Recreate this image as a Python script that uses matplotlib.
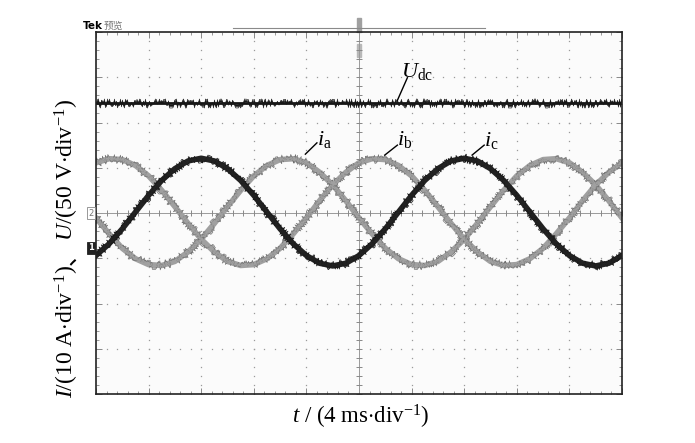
import numpy as np
import matplotlib
matplotlib.use('Agg')
import matplotlib.pyplot as plt
from matplotlib.patches import Rectangle

plt.rcParams['mathtext.fontset'] = 'custom'
plt.rcParams['mathtext.rm'] = 'Liberation Serif'
plt.rcParams['mathtext.it'] = 'Liberation Serif:italic'
plt.rcParams['mathtext.bf'] = 'Liberation Serif:bold'
plt.rcParams['font.family'] = ['Liberation Serif', 'Noto Sans CJK SC', 'DejaVu Sans']

# screen readings, in divisions (x: 4 ms/div, y: 10 A/div or 50 V/div)
t_div = np.arange(41) * 0.25
i_a = [-0.11, -0.46, -0.78, -1.01, -1.14, -1.16, -1.07, -0.86, -0.58, -0.23,
       0.14, 0.50, 0.82, 1.05, 1.18, 1.20, 1.11, 0.90, 0.62, 0.27,
       -0.11, -0.46, -0.78, -1.01, -1.14, -1.16, -1.07, -0.86, -0.58, -0.23,
       0.14, 0.50, 0.82, 1.05, 1.18, 1.20, 1.11, 0.90, 0.62, 0.27, -0.11]
i_b = [1.11, 1.20, 1.18, 1.05, 0.82, 0.50, 0.14, -0.23, -0.58, -0.86,
       -1.07, -1.16, -1.14, -1.01, -0.78, -0.46, -0.11, 0.27, 0.62, 0.90,
       1.11, 1.20, 1.18, 1.05, 0.82, 0.50, 0.14, -0.23, -0.58, -0.86,
       -1.07, -1.16, -1.14, -1.01, -0.78, -0.46, -0.11, 0.27, 0.62, 0.90, 1.11]
i_c = [-0.94, -0.68, -0.35, 0.02, 0.39, 0.72, 0.98, 1.15, 1.21, 1.15,
       0.98, 0.72, 0.39, 0.02, -0.35, -0.68, -0.94, -1.11, -1.17, -1.11,
       -0.94, -0.68, -0.35, 0.02, 0.39, 0.72, 0.98, 1.15, 1.21, 1.15,
       0.98, 0.72, 0.39, 0.02, -0.35, -0.68, -0.94, -1.11, -1.17, -1.11, -0.94]
udc_t = [0, 10]
u_dc = [2.42, 2.42]

fig = plt.figure(figsize=(6.95, 4.43), dpi=100)
ax = fig.add_axes([96/695, 1-394/443, 526/695, 362/443])
ax.set_xlim(0, 10)
ax.set_ylim(-4, 4)
ax.set_facecolor('#fbfbfb')

# scope graticule: dotted division lines, centre cross with minor ticks
fine = np.arange(0, 10.01, 0.2)
fine_y = np.arange(-4, 4.01, 0.2)
for k in range(1, 10):
    if k != 5:
        ax.plot(np.full(fine_y.size, k), fine_y, ls='none', marker='s', ms=0.9, color='#9a9a9a', mew=0)
for k in range(-3, 4):
    if k != 0:
        ax.plot(fine, np.full(fine.size, k), ls='none', marker='s', ms=0.9, color='#9a9a9a', mew=0)
ax.axhline(0, color='#9a9a9a', lw=0.7)
ax.axvline(5, color='#9a9a9a', lw=0.7)
ax.plot(fine, np.zeros(fine.size), ls='none', marker='|', ms=4, color='#888888', mew=0.7)
ax.plot(np.full(fine_y.size, 5), fine_y, ls='none', marker='_', ms=4, color='#888888', mew=0.7)

ax.set_xticks(range(11))
ax.set_yticks(range(-4, 5))
ax.set_xticks(fine, minor=True)
ax.set_yticks(fine_y, minor=True)
ax.tick_params(which='both', direction='in', top=True, right=True,
               labelbottom=False, labelleft=False, color='#888888')
ax.tick_params(which='major', length=4, width=0.7)
ax.tick_params(which='minor', length=2.5, width=0.6)
for s in ax.spines.values():
    s.set_linewidth(1.2)
    s.set_color('#222222')

# traces: solid core plus jittered thin strokes for the scope noise
def trace(x, y, core, fuzz, lw, amp):
    ax.plot(x, y, color=core, lw=lw)
    for c, a, w in ((fuzz, amp, 0.5), (fuzz, amp * 0.7, 0.6), (core, amp * 0.45, 0.8)):
        ln, = ax.plot(x, y, color=c, lw=w)
        ln.set_sketch_params(scale=a, length=0.8, randomness=1.5)

trace(t_div, i_a, '#a0a0a0', '#727272', 4.0, 4.5)
trace(t_div, i_b, '#a0a0a0', '#727272', 4.0, 4.5)
trace(t_div, i_c, '#222222', '#161616', 4.0, 4.5)
trace(udc_t, u_dc, '#151515', '#2a2a2a', 2.0, 4.5)

# labels on traces
lab = dict(fontsize=16)
ax.plot([5.73, 5.92], [2.49, 2.99], color='k', lw=1)
ax.text(5.8, 3.0, r'$U_\mathrm{dc}$', **lab)
ax.plot([3.98, 4.20], [1.30, 1.55], color='k', lw=1)
ax.text(4.2, 1.5, r'$i_\mathrm{a}$', **lab)
ax.plot([5.49, 5.73], [1.28, 1.50], color='k', lw=1)
ax.text(5.72, 1.5, r'$i_\mathrm{b}$', **lab)
ax.plot([7.15, 7.38], [1.28, 1.50], color='k', lw=1)
ax.text(7.37, 1.48, r'$i_\mathrm{c}$', **lab)

# scope markers
ax.plot([2.6, 7.4], [4.09, 4.09], color='#8a8a8a', lw=0.8, clip_on=False)
ax.add_patch(Rectangle((4.96, 4.0), 0.08, 0.3, color='#a0a0a0', clip_on=False))
ax.add_patch(Rectangle((4.96, 3.45), 0.08, 0.28, color='#b8b8b8', clip_on=False))
ax.text(-0.04, 0, '2', fontsize=6, color='#777777', ha='right', va='center', family='DejaVu Sans',
        bbox=dict(boxstyle='square,pad=0.15', fc='white', ec='#888888', lw=0.6), clip_on=False)
ax.text(-0.04, -0.77, '1', fontsize=6, color='white', ha='right', va='center', family='DejaVu Sans',
        fontweight='bold', bbox=dict(boxstyle='square,pad=0.15', fc='#222222', ec='#222222', lw=0.6), clip_on=False)
fig.text(83/695, 1-29/443, 'Tek', fontsize=7.5, fontweight='bold', family='DejaVu Sans')
fig.text(104/695, 1-29/443, '预览', fontsize=7, color='#777777', family='Noto Sans CJK SC')

# axis titles
fig.text(361/695, 1-424/443, r'$t$ / (4 ms$\cdot$div$^{-1}$)', fontsize=16.5,
         ha='center', va='baseline')
fig.canvas.draw()
r = fig.canvas.get_renderer()
pieces = [(r'$I$/(10 A$\cdot$div$^{-1}$)', 'Liberation Serif'),
          ('、', 'Noto Sans CJK SC'),
          (r'$U$/(50 V$\cdot$div$^{-1}$)', 'Liberation Serif')]
ypos = 1 - 398/443
for s, fam in pieces:
    tx = fig.text(74/695, ypos, s, fontsize=17, family=fam, rotation=90,
                  rotation_mode='anchor', ha='left', va='baseline')
    bb = tx.get_window_extent(r)
    ypos += bb.height / fig.bbox.height

fig.savefig('out.png', dpi=100)
